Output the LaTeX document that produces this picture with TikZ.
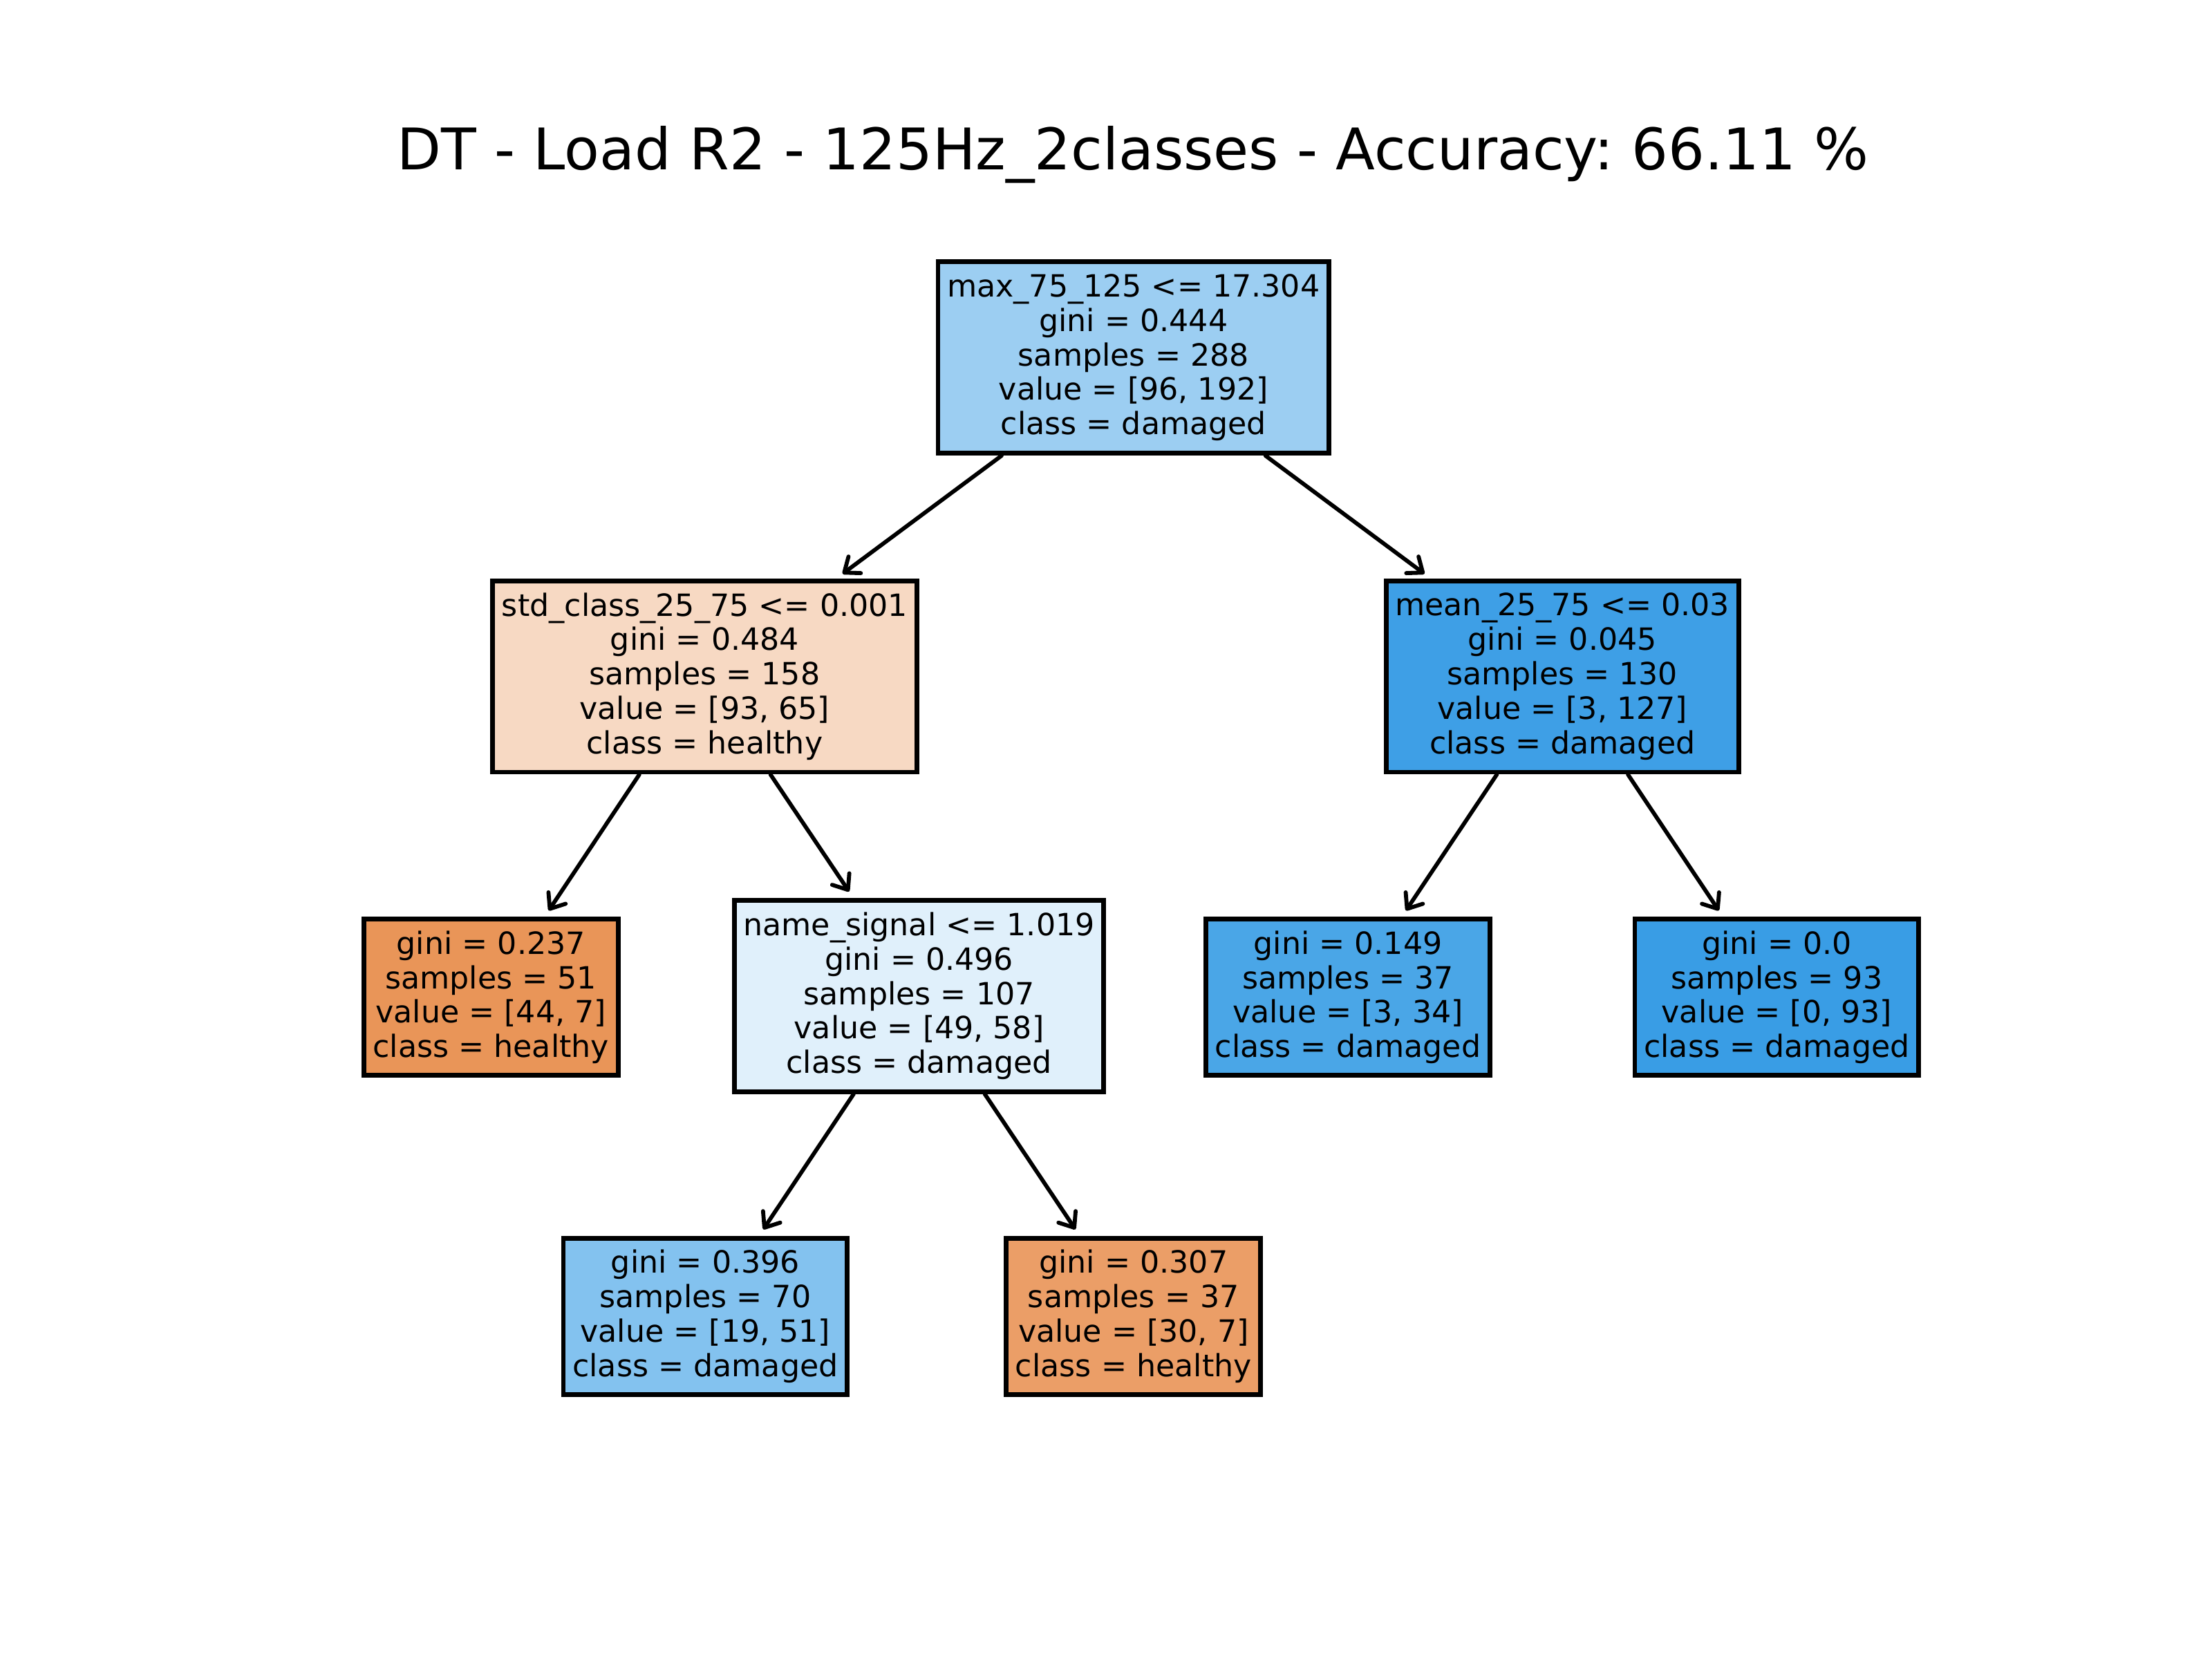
\documentclass[tikz,border=0pt]{standalone}
\usepackage{fontspec}
\setmainfont{DejaVu Sans}
\usepackage{tikz}
\usetikzlibrary{arrows.meta,positioning}
\frenchspacing

\definecolor{c0}{RGB}{156,206,242}
\definecolor{c1}{RGB}{247,217,195}
\definecolor{c2}{RGB}{233,149,88}
\definecolor{c3}{RGB}{224,240,251}
\definecolor{c4}{RGB}{131,194,239}
\definecolor{c5}{RGB}{235,158,103}
\definecolor{c6}{RGB}{62,159,230}
\definecolor{c7}{RGB}{74,166,231}
\definecolor{c8}{RGB}{57,157,229}

\begin{document}
\begin{tikzpicture}
			[x=0.0129592cm,y=-0.0129592cm,
			font=\fontsize{8}{9}\selectfont,
			split/.style={shape=rectangle,draw=black,line width=1.25pt,align=center,
				inner xsep=2.4pt,inner ysep=0pt,minimum height=50pt},
			leaf/.style={split,minimum height=40.8pt},
			arc/.style={-{Straight Barb[length=3.4pt,width=5.4pt,line cap=round,line join=round]},line width=1.05pt,line cap=round,shorten >=2pt}]
			\useasboundingbox (0,0) rectangle (1568,1176);
			
			\node (title) [anchor=base,font=\fontsize{15}{18}\selectfont] at (803,120.5)
				{DT - Load R2 - 125Hz\_2classes - Accuracy: 66.11 \%};
			
			\node (0) [split,fill=c0] at (803.5,253.5) {max\_75\_125 <= 17.304\\gini = 0.444\\samples = 288\\value = [96, 192]\\class = damaged};
			\node (1) [split,fill=c1] at (499.5,479.5) {std\_class\_25\_75 <= 0.001\\gini = 0.484\\samples = 158\\value = [93, 65]\\class = healthy};
			\node (6) [split,fill=c6] at (1107.5,479.5) {mean\_25\_75 <= 0.03\\gini = 0.045\\samples = 130\\value = [3, 127]\\class = damaged};
			
			\node (2) [leaf,fill=c2] at (348,707) {gini = 0.237\\samples = 51\\value = [44, 7]\\class = healthy};
			\node (3) [split,fill=c3] at (651.5,706) {name\_signal <= 1.019\\gini = 0.496\\samples = 107\\value = [49, 58]\\class = damaged};
			\node (7) [leaf,fill=c7] at (955.5,707) {gini = 0.149\\samples = 37\\value = [3, 34]\\class = damaged};
			\node (8) [leaf,fill=c8] at (1259.5,707) {gini = 0.0\\samples = 93\\value = [0, 93]\\class = damaged};
			
			\node (4) [leaf,fill=c4] at (500,933) {gini = 0.396\\samples = 70\\value = [19, 51]\\class = damaged};
			\node (5) [leaf,fill=c5] at (803.5,933) {gini = 0.307\\samples = 37\\value = [30, 7]\\class = healthy};
			
			\draw [arc] (0) to (1);
			\draw [arc] (0) to (6);
			\draw [arc] (1) to (2);
			\draw [arc] (1) to (3);
			\draw [arc] (3) to (4);
			\draw [arc] (3) to (5);
			\draw [arc] (6) to (7);
			\draw [arc] (6) to (8);
\end{tikzpicture}
\end{document}
